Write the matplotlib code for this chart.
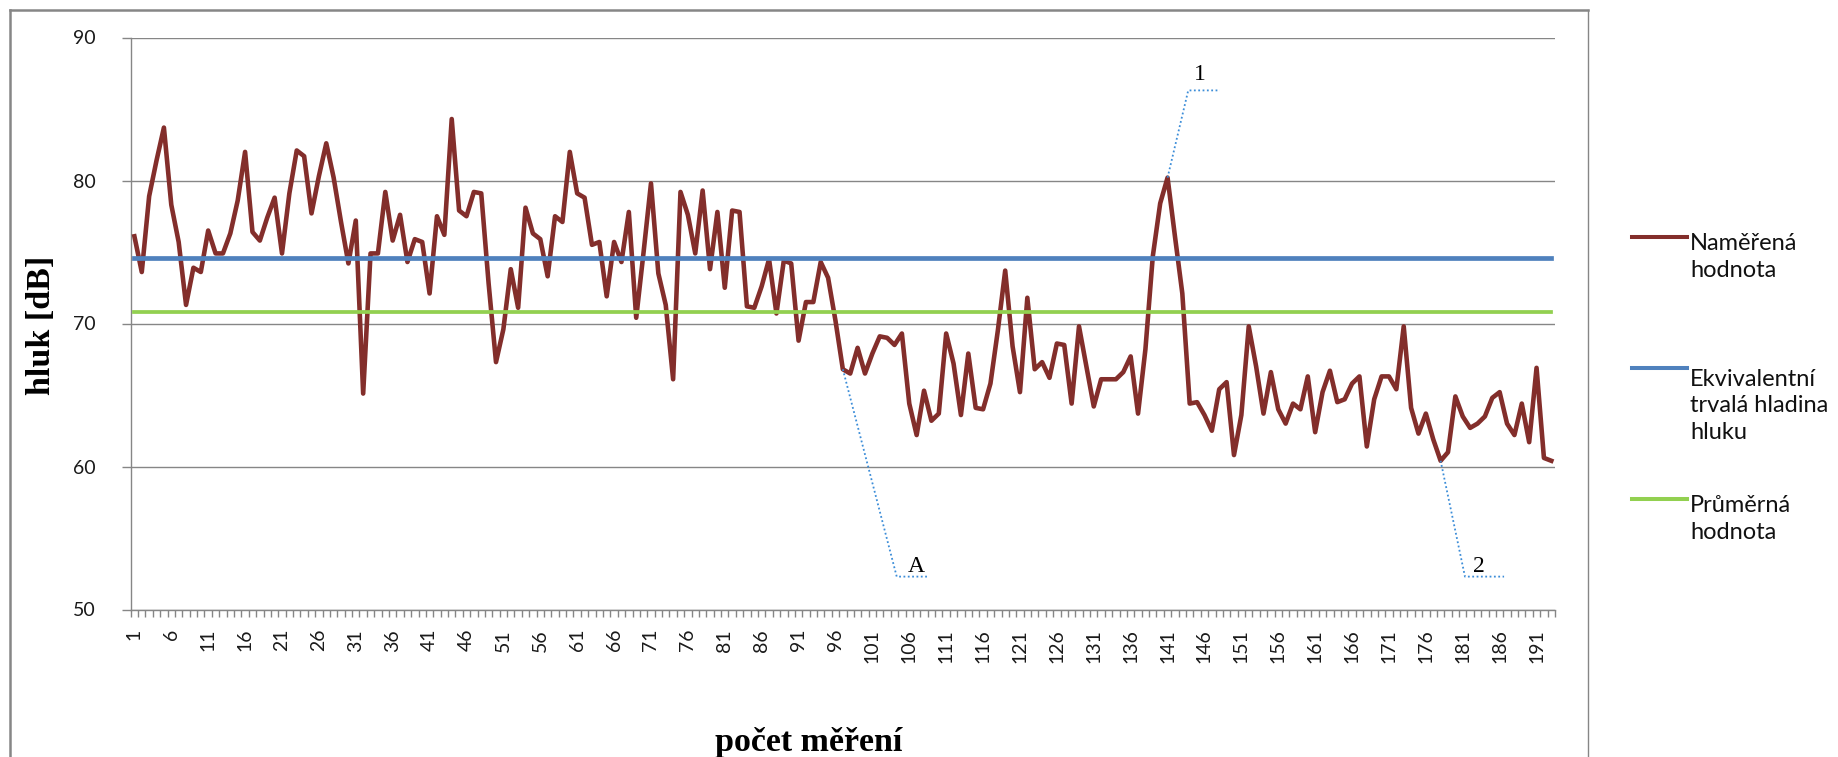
import numpy as np
import matplotlib.pyplot as plt
from matplotlib.lines import Line2D

W, H = 1838, 757

# naměřený hluk v jednotlivých měřeních [dB]
hluk = [
    76.1, 73.6, 78.9, 81.4, 83.7, 78.3, 75.7, 71.3, 73.9, 73.6,
    76.5, 74.9, 74.9, 76.3, 78.6, 82.0, 76.4, 75.8, 77.4, 78.8,
    74.9, 79.1, 82.1, 81.7, 77.7, 80.3, 82.6, 80.2, 77.1, 74.2,
    77.2, 65.1, 74.9, 74.9, 79.2, 75.8, 77.6, 74.3, 75.9, 75.7,
    72.1, 77.5, 76.2, 84.3, 77.9, 77.5, 79.2, 79.1, 72.8, 67.3,
    69.6, 73.8, 71.1, 78.1, 76.3, 75.9, 73.3, 77.5, 77.1, 82.0,
    79.1, 78.8, 75.5, 75.7, 71.9, 75.7, 74.3, 77.8, 70.4, 75.0,
    79.8, 73.5, 71.3, 66.1, 79.2, 77.6, 74.9, 79.3, 73.8, 77.8,
    72.5, 77.9, 77.8, 71.2, 71.1, 72.6, 74.5, 70.7, 74.4, 74.2,
    68.8, 71.5, 71.5, 74.3, 73.2, 70.2, 66.8, 66.5, 68.3, 66.5,
    67.9, 69.1, 69.0, 68.5, 69.3, 64.4, 62.2, 65.3, 63.2, 63.7,
    69.3, 67.2, 63.6, 67.9, 64.1, 64.0, 65.8, 69.5, 73.7, 68.4,
    65.2, 71.8, 66.8, 67.3, 66.2, 68.6, 68.5, 64.4, 69.8, 67.0,
    64.2, 66.1, 66.1, 66.1, 66.6, 67.7, 63.7, 68.2, 74.7, 78.4,
    80.2, 76.1, 72.1, 64.4, 64.5, 63.6, 62.5, 65.4, 65.9, 60.8,
    63.6, 69.8, 67.0, 63.7, 66.6, 64.0, 63.0, 64.4, 64.0, 66.3,
    62.4, 65.2, 66.7, 64.5, 64.7, 65.8, 66.3, 61.4, 64.7, 66.3,
    66.3, 65.4, 69.8, 64.1, 62.3, 63.7, 61.9, 60.4, 61.0, 64.9,
    63.5, 62.7, 63.0, 63.5, 64.8, 65.2, 63.0, 62.2, 64.4, 61.7,
    66.9, 60.6, 60.4,
]
leq = 74.6      # ekvivalentní trvalá hladina hluku
prumer = 70.8   # průměrná hodnota

labels = ['Naměřená\nhodnota', 'Ekvivalentní\ntrvalá hladina\nhluku', 'Průměrná\nhodnota']
colors = ['#832E2B', '#4F81BD', '#92D050']

# popisky vybraných měření: číslo měření, text
popisky = [97, 141, 178]
popisky_text = ['A', '1', '2']

mereni = np.arange(1, len(hluk) + 1)


def fx(px):
    return px / W


def fy(py):
    return 1 - py / H


fig = plt.figure(figsize=(W / 100, H / 100), dpi=100)
ax = fig.add_axes([fx(130.7), fy(609.5), fx(1555) - fx(130.7), fy(37.5) - fy(609.5)])

ax.plot(mereni, hluk, color=colors[0], lw=3.3, solid_joinstyle='round', zorder=3)
ax.plot(mereni, [leq] * len(mereni), color=colors[1], lw=3.4, zorder=4)
ax.plot(mereni, [prumer] * len(mereni), color=colors[2], lw=2.7, zorder=4)

# odkazové čáry k popiskům (šikmo k lomu, pak vodorovně), poloha textu
lom = {'A': (104.3, 52.3, 108.5, 106.9, 52.6),
       '1': (143.8, 86.3, 148.1, 145.4, 87.0),
       '2': (181.3, 52.3, 186.6, 183.2, 52.6)}
for n, t in zip(popisky, popisky_text):
    bx, by, kx, tx, ty = lom[t]
    ax.plot([n, bx, kx], [hluk[n - 1], by, by], color='#3C8DD8', lw=1.3,
            ls=(0, (1, 1.4)), zorder=5)
    ax.text(tx, ty, t, ha='center', va='baseline',
            family='Liberation Serif', fontsize=17, zorder=6)

ax.set_xlim(0.5, len(hluk) + 0.5)
ax.set_ylim(50, 90)
ax.set_yticks([50, 60, 70, 80, 90])
ax.set_xticks(mereni[::5])
ax.set_xticklabels([str(m) for m in mereni[::5]], rotation=90)
ax.set_xticks(np.arange(0.5, len(hluk) + 1, 1), minor=True)

ax.grid(axis='y', color='#868686', lw=1.0, zorder=0)
for s in ['top', 'right']:
    ax.spines[s].set_visible(False)
for s in ['left', 'bottom']:
    ax.spines[s].set_color('#868686')
    ax.spines[s].set_linewidth(1.0)

ax.tick_params(axis='x', which='major', length=0, pad=14)
ax.tick_params(axis='x', which='minor', length=5, color='#868686', width=1)
ax.tick_params(axis='y', length=6.5, color='#868686', width=1, pad=19)
for lab in ax.get_xticklabels() + ax.get_yticklabels():
    lab.set_family('Lato')
    lab.set_fontsize(14)
    lab.set_color('#1a1a1a')

# popisky os
fig.text(fx(41), fy(325), 'hluk [dB]', rotation=90, ha='center', va='center',
         family='Liberation Serif', fontweight='bold', fontsize=24.5)
fig.text(fx(809), fy(751), 'počet měření', ha='center', va='baseline',
         family='Liberation Serif', fontweight='bold', fontsize=24.5)

# legenda vpravo, čára u prvního řádku textu
leg_y = [237.3, 367.7, 499.3]
radek = 1.35 * 17 * 100 / 72
for c, lab, y in zip(colors, labels, leg_y):
    fig.add_artist(Line2D([fx(1631.7), fx(1686.7)], [fy(y), fy(y)], color=c, lw=2.9))
    posun = (lab.count('\n')) * radek
    fig.text(fx(1690), fy(y + 8 + posun), lab, ha='left', va='baseline', family='Lato',
             fontsize=17, linespacing=1.35, color='#111111')

# rámeček grafu
ram = '#868686'
fig.add_artist(Line2D([fx(10), fx(10)], [fy(10), 0], color=ram, lw=1.8))
fig.add_artist(Line2D([fx(10), fx(1588)], [fy(10), fy(10)], color=ram, lw=1.8))
fig.add_artist(Line2D([fx(1588), fx(1588)], [fy(10), 0], color=ram, lw=1.0))

fig.savefig('out.png', dpi=100)
